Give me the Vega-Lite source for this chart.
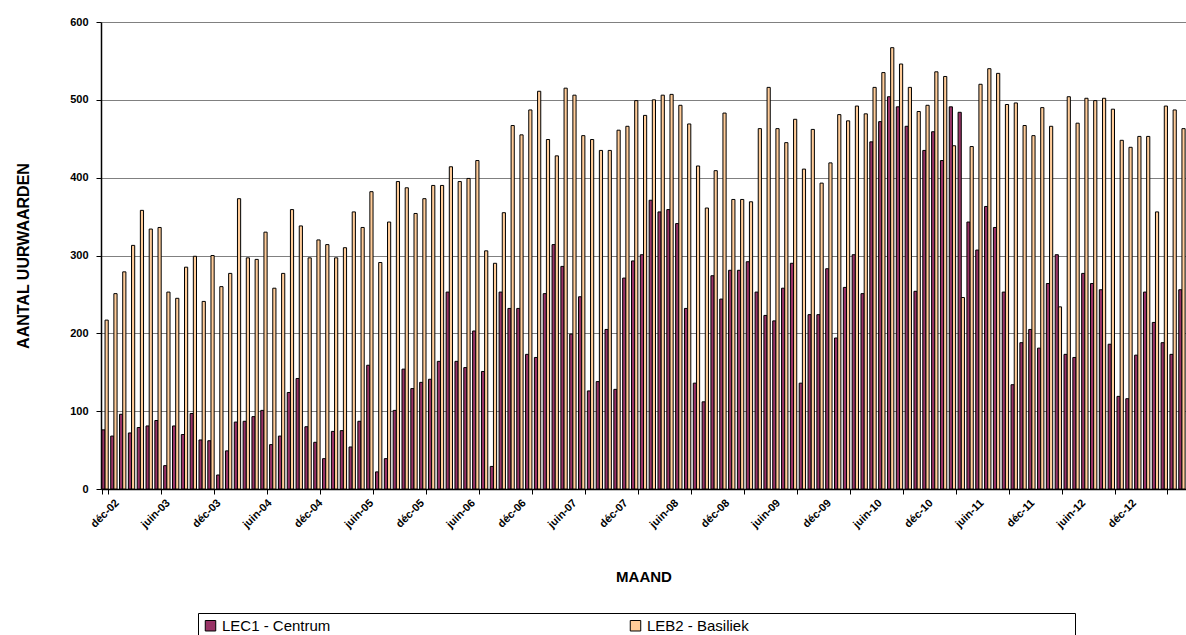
{
 "$schema": "https://vega.github.io/schema/vega-lite/v6.json",
 "width": 1085, "height": 467,
 "autosize": "none",
 "padding": {"left": 101, "top": 22, "right": 0, "bottom": 146},
 "background": "white",
 "config": {"view": {"stroke": null}, "font": "Liberation Sans"},
 "data": {"values": [
{"m":"déc-02","s":"LEC1 - Centrum","v":76},{"m":"déc-02","s":"LEB2 - Basiliek","v":217},
{"m":"janv-03","s":"LEC1 - Centrum","v":68},{"m":"janv-03","s":"LEB2 - Basiliek","v":251},
{"m":"févr-03","s":"LEC1 - Centrum","v":96},{"m":"févr-03","s":"LEB2 - Basiliek","v":279},
{"m":"mars-03","s":"LEC1 - Centrum","v":72},{"m":"mars-03","s":"LEB2 - Basiliek","v":313},
{"m":"avr-03","s":"LEC1 - Centrum","v":79},{"m":"avr-03","s":"LEB2 - Basiliek","v":358},
{"m":"mai-03","s":"LEC1 - Centrum","v":81},{"m":"mai-03","s":"LEB2 - Basiliek","v":334},
{"m":"juin-03","s":"LEC1 - Centrum","v":88},{"m":"juin-03","s":"LEB2 - Basiliek","v":336},
{"m":"juil-03","s":"LEC1 - Centrum","v":30},{"m":"juil-03","s":"LEB2 - Basiliek","v":253},
{"m":"août-03","s":"LEC1 - Centrum","v":81},{"m":"août-03","s":"LEB2 - Basiliek","v":245},
{"m":"sept-03","s":"LEC1 - Centrum","v":70},{"m":"sept-03","s":"LEB2 - Basiliek","v":285},
{"m":"oct-03","s":"LEC1 - Centrum","v":97},{"m":"oct-03","s":"LEB2 - Basiliek","v":299},
{"m":"nov-03","s":"LEC1 - Centrum","v":63},{"m":"nov-03","s":"LEB2 - Basiliek","v":241},
{"m":"déc-03","s":"LEC1 - Centrum","v":62},{"m":"déc-03","s":"LEB2 - Basiliek","v":300},
{"m":"janv-04","s":"LEC1 - Centrum","v":18},{"m":"janv-04","s":"LEB2 - Basiliek","v":260},
{"m":"févr-04","s":"LEC1 - Centrum","v":49},{"m":"févr-04","s":"LEB2 - Basiliek","v":277},
{"m":"mars-04","s":"LEC1 - Centrum","v":86},{"m":"mars-04","s":"LEB2 - Basiliek","v":373},
{"m":"avr-04","s":"LEC1 - Centrum","v":87},{"m":"avr-04","s":"LEB2 - Basiliek","v":297},
{"m":"mai-04","s":"LEC1 - Centrum","v":93},{"m":"mai-04","s":"LEB2 - Basiliek","v":295},
{"m":"juin-04","s":"LEC1 - Centrum","v":101},{"m":"juin-04","s":"LEB2 - Basiliek","v":330},
{"m":"juil-04","s":"LEC1 - Centrum","v":57},{"m":"juil-04","s":"LEB2 - Basiliek","v":258},
{"m":"août-04","s":"LEC1 - Centrum","v":68},{"m":"août-04","s":"LEB2 - Basiliek","v":277},
{"m":"sept-04","s":"LEC1 - Centrum","v":124},{"m":"sept-04","s":"LEB2 - Basiliek","v":359},
{"m":"oct-04","s":"LEC1 - Centrum","v":142},{"m":"oct-04","s":"LEB2 - Basiliek","v":338},
{"m":"nov-04","s":"LEC1 - Centrum","v":80},{"m":"nov-04","s":"LEB2 - Basiliek","v":297},
{"m":"déc-04","s":"LEC1 - Centrum","v":60},{"m":"déc-04","s":"LEB2 - Basiliek","v":320},
{"m":"janv-05","s":"LEC1 - Centrum","v":39},{"m":"janv-05","s":"LEB2 - Basiliek","v":314},
{"m":"févr-05","s":"LEC1 - Centrum","v":74},{"m":"févr-05","s":"LEB2 - Basiliek","v":297},
{"m":"mars-05","s":"LEC1 - Centrum","v":75},{"m":"mars-05","s":"LEB2 - Basiliek","v":310},
{"m":"avr-05","s":"LEC1 - Centrum","v":54},{"m":"avr-05","s":"LEB2 - Basiliek","v":356},
{"m":"mai-05","s":"LEC1 - Centrum","v":87},{"m":"mai-05","s":"LEB2 - Basiliek","v":336},
{"m":"juin-05","s":"LEC1 - Centrum","v":159},{"m":"juin-05","s":"LEB2 - Basiliek","v":382},
{"m":"juil-05","s":"LEC1 - Centrum","v":22},{"m":"juil-05","s":"LEB2 - Basiliek","v":291},
{"m":"août-05","s":"LEC1 - Centrum","v":39},{"m":"août-05","s":"LEB2 - Basiliek","v":343},
{"m":"sept-05","s":"LEC1 - Centrum","v":101},{"m":"sept-05","s":"LEB2 - Basiliek","v":395},
{"m":"oct-05","s":"LEC1 - Centrum","v":154},{"m":"oct-05","s":"LEB2 - Basiliek","v":387},
{"m":"nov-05","s":"LEC1 - Centrum","v":129},{"m":"nov-05","s":"LEB2 - Basiliek","v":354},
{"m":"déc-05","s":"LEC1 - Centrum","v":137},{"m":"déc-05","s":"LEB2 - Basiliek","v":373},
{"m":"janv-06","s":"LEC1 - Centrum","v":141},{"m":"janv-06","s":"LEB2 - Basiliek","v":390},
{"m":"févr-06","s":"LEC1 - Centrum","v":164},{"m":"févr-06","s":"LEB2 - Basiliek","v":390},
{"m":"mars-06","s":"LEC1 - Centrum","v":253},{"m":"mars-06","s":"LEB2 - Basiliek","v":414},
{"m":"avr-06","s":"LEC1 - Centrum","v":164},{"m":"avr-06","s":"LEB2 - Basiliek","v":395},
{"m":"mai-06","s":"LEC1 - Centrum","v":156},{"m":"mai-06","s":"LEB2 - Basiliek","v":399},
{"m":"juin-06","s":"LEC1 - Centrum","v":203},{"m":"juin-06","s":"LEB2 - Basiliek","v":422},
{"m":"juil-06","s":"LEC1 - Centrum","v":151},{"m":"juil-06","s":"LEB2 - Basiliek","v":306},
{"m":"août-06","s":"LEC1 - Centrum","v":29},{"m":"août-06","s":"LEB2 - Basiliek","v":290},
{"m":"sept-06","s":"LEC1 - Centrum","v":253},{"m":"sept-06","s":"LEB2 - Basiliek","v":355},
{"m":"oct-06","s":"LEC1 - Centrum","v":232},{"m":"oct-06","s":"LEB2 - Basiliek","v":467},
{"m":"nov-06","s":"LEC1 - Centrum","v":232},{"m":"nov-06","s":"LEB2 - Basiliek","v":455},
{"m":"déc-06","s":"LEC1 - Centrum","v":173},{"m":"déc-06","s":"LEB2 - Basiliek","v":487},
{"m":"janv-07","s":"LEC1 - Centrum","v":169},{"m":"janv-07","s":"LEB2 - Basiliek","v":511},
{"m":"févr-07","s":"LEC1 - Centrum","v":251},{"m":"févr-07","s":"LEB2 - Basiliek","v":449},
{"m":"mars-07","s":"LEC1 - Centrum","v":314},{"m":"mars-07","s":"LEB2 - Basiliek","v":428},
{"m":"avr-07","s":"LEC1 - Centrum","v":286},{"m":"avr-07","s":"LEB2 - Basiliek","v":515},
{"m":"mai-07","s":"LEC1 - Centrum","v":199},{"m":"mai-07","s":"LEB2 - Basiliek","v":506},
{"m":"juin-07","s":"LEC1 - Centrum","v":247},{"m":"juin-07","s":"LEB2 - Basiliek","v":454},
{"m":"juil-07","s":"LEC1 - Centrum","v":126},{"m":"juil-07","s":"LEB2 - Basiliek","v":449},
{"m":"août-07","s":"LEC1 - Centrum","v":138},{"m":"août-07","s":"LEB2 - Basiliek","v":435},
{"m":"sept-07","s":"LEC1 - Centrum","v":205},{"m":"sept-07","s":"LEB2 - Basiliek","v":435},
{"m":"oct-07","s":"LEC1 - Centrum","v":128},{"m":"oct-07","s":"LEB2 - Basiliek","v":461},
{"m":"nov-07","s":"LEC1 - Centrum","v":271},{"m":"nov-07","s":"LEB2 - Basiliek","v":466},
{"m":"déc-07","s":"LEC1 - Centrum","v":293},{"m":"déc-07","s":"LEB2 - Basiliek","v":499},
{"m":"janv-08","s":"LEC1 - Centrum","v":301},{"m":"janv-08","s":"LEB2 - Basiliek","v":480},
{"m":"févr-08","s":"LEC1 - Centrum","v":371},{"m":"févr-08","s":"LEB2 - Basiliek","v":500},
{"m":"mars-08","s":"LEC1 - Centrum","v":356},{"m":"mars-08","s":"LEB2 - Basiliek","v":506},
{"m":"avr-08","s":"LEC1 - Centrum","v":359},{"m":"avr-08","s":"LEB2 - Basiliek","v":507},
{"m":"mai-08","s":"LEC1 - Centrum","v":341},{"m":"mai-08","s":"LEB2 - Basiliek","v":493},
{"m":"juin-08","s":"LEC1 - Centrum","v":232},{"m":"juin-08","s":"LEB2 - Basiliek","v":469},
{"m":"juil-08","s":"LEC1 - Centrum","v":136},{"m":"juil-08","s":"LEB2 - Basiliek","v":415},
{"m":"août-08","s":"LEC1 - Centrum","v":112},{"m":"août-08","s":"LEB2 - Basiliek","v":361},
{"m":"sept-08","s":"LEC1 - Centrum","v":274},{"m":"sept-08","s":"LEB2 - Basiliek","v":409},
{"m":"oct-08","s":"LEC1 - Centrum","v":244},{"m":"oct-08","s":"LEB2 - Basiliek","v":483},
{"m":"nov-08","s":"LEC1 - Centrum","v":281},{"m":"nov-08","s":"LEB2 - Basiliek","v":372},
{"m":"déc-08","s":"LEC1 - Centrum","v":281},{"m":"déc-08","s":"LEB2 - Basiliek","v":372},
{"m":"janv-09","s":"LEC1 - Centrum","v":292},{"m":"janv-09","s":"LEB2 - Basiliek","v":369},
{"m":"févr-09","s":"LEC1 - Centrum","v":253},{"m":"févr-09","s":"LEB2 - Basiliek","v":463},
{"m":"mars-09","s":"LEC1 - Centrum","v":223},{"m":"mars-09","s":"LEB2 - Basiliek","v":516},
{"m":"avr-09","s":"LEC1 - Centrum","v":216},{"m":"avr-09","s":"LEB2 - Basiliek","v":463},
{"m":"mai-09","s":"LEC1 - Centrum","v":258},{"m":"mai-09","s":"LEB2 - Basiliek","v":445},
{"m":"juin-09","s":"LEC1 - Centrum","v":290},{"m":"juin-09","s":"LEB2 - Basiliek","v":475},
{"m":"juil-09","s":"LEC1 - Centrum","v":136},{"m":"juil-09","s":"LEB2 - Basiliek","v":411},
{"m":"août-09","s":"LEC1 - Centrum","v":224},{"m":"août-09","s":"LEB2 - Basiliek","v":462},
{"m":"sept-09","s":"LEC1 - Centrum","v":224},{"m":"sept-09","s":"LEB2 - Basiliek","v":393},
{"m":"oct-09","s":"LEC1 - Centrum","v":283},{"m":"oct-09","s":"LEB2 - Basiliek","v":419},
{"m":"nov-09","s":"LEC1 - Centrum","v":194},{"m":"nov-09","s":"LEB2 - Basiliek","v":481},
{"m":"déc-09","s":"LEC1 - Centrum","v":259},{"m":"déc-09","s":"LEB2 - Basiliek","v":473},
{"m":"janv-10","s":"LEC1 - Centrum","v":301},{"m":"janv-10","s":"LEB2 - Basiliek","v":492},
{"m":"févr-10","s":"LEC1 - Centrum","v":251},{"m":"févr-10","s":"LEB2 - Basiliek","v":482},
{"m":"mars-10","s":"LEC1 - Centrum","v":446},{"m":"mars-10","s":"LEB2 - Basiliek","v":516},
{"m":"avr-10","s":"LEC1 - Centrum","v":472},{"m":"avr-10","s":"LEB2 - Basiliek","v":535},
{"m":"mai-10","s":"LEC1 - Centrum","v":504},{"m":"mai-10","s":"LEB2 - Basiliek","v":567},
{"m":"juin-10","s":"LEC1 - Centrum","v":491},{"m":"juin-10","s":"LEB2 - Basiliek","v":546},
{"m":"juil-10","s":"LEC1 - Centrum","v":466},{"m":"juil-10","s":"LEB2 - Basiliek","v":516},
{"m":"août-10","s":"LEC1 - Centrum","v":254},{"m":"août-10","s":"LEB2 - Basiliek","v":485},
{"m":"sept-10","s":"LEC1 - Centrum","v":435},{"m":"sept-10","s":"LEB2 - Basiliek","v":493},
{"m":"oct-10","s":"LEC1 - Centrum","v":459},{"m":"oct-10","s":"LEB2 - Basiliek","v":536},
{"m":"nov-10","s":"LEC1 - Centrum","v":422},{"m":"nov-10","s":"LEB2 - Basiliek","v":530},
{"m":"déc-10","s":"LEC1 - Centrum","v":491},{"m":"déc-10","s":"LEB2 - Basiliek","v":441},
{"m":"janv-11","s":"LEC1 - Centrum","v":484},{"m":"janv-11","s":"LEB2 - Basiliek","v":246},
{"m":"févr-11","s":"LEC1 - Centrum","v":343},{"m":"févr-11","s":"LEB2 - Basiliek","v":440},
{"m":"mars-11","s":"LEC1 - Centrum","v":307},{"m":"mars-11","s":"LEB2 - Basiliek","v":520},
{"m":"avr-11","s":"LEC1 - Centrum","v":363},{"m":"avr-11","s":"LEB2 - Basiliek","v":540},
{"m":"mai-11","s":"LEC1 - Centrum","v":336},{"m":"mai-11","s":"LEB2 - Basiliek","v":534},
{"m":"juin-11","s":"LEC1 - Centrum","v":253},{"m":"juin-11","s":"LEB2 - Basiliek","v":494},
{"m":"juil-11","s":"LEC1 - Centrum","v":134},{"m":"juil-11","s":"LEB2 - Basiliek","v":496},
{"m":"août-11","s":"LEC1 - Centrum","v":188},{"m":"août-11","s":"LEB2 - Basiliek","v":467},
{"m":"sept-11","s":"LEC1 - Centrum","v":205},{"m":"sept-11","s":"LEB2 - Basiliek","v":454},
{"m":"oct-11","s":"LEC1 - Centrum","v":181},{"m":"oct-11","s":"LEB2 - Basiliek","v":490},
{"m":"nov-11","s":"LEC1 - Centrum","v":264},{"m":"nov-11","s":"LEB2 - Basiliek","v":466},
{"m":"déc-11","s":"LEC1 - Centrum","v":301},{"m":"déc-11","s":"LEB2 - Basiliek","v":234},
{"m":"janv-12","s":"LEC1 - Centrum","v":173},{"m":"janv-12","s":"LEB2 - Basiliek","v":504},
{"m":"févr-12","s":"LEC1 - Centrum","v":169},{"m":"févr-12","s":"LEB2 - Basiliek","v":470},
{"m":"mars-12","s":"LEC1 - Centrum","v":277},{"m":"mars-12","s":"LEB2 - Basiliek","v":502},
{"m":"avr-12","s":"LEC1 - Centrum","v":264},{"m":"avr-12","s":"LEB2 - Basiliek","v":499},
{"m":"mai-12","s":"LEC1 - Centrum","v":256},{"m":"mai-12","s":"LEB2 - Basiliek","v":502},
{"m":"juin-12","s":"LEC1 - Centrum","v":186},{"m":"juin-12","s":"LEB2 - Basiliek","v":488},
{"m":"juil-12","s":"LEC1 - Centrum","v":119},{"m":"juil-12","s":"LEB2 - Basiliek","v":448},
{"m":"août-12","s":"LEC1 - Centrum","v":116},{"m":"août-12","s":"LEB2 - Basiliek","v":439},
{"m":"sept-12","s":"LEC1 - Centrum","v":172},{"m":"sept-12","s":"LEB2 - Basiliek","v":453},
{"m":"oct-12","s":"LEC1 - Centrum","v":253},{"m":"oct-12","s":"LEB2 - Basiliek","v":453},
{"m":"nov-12","s":"LEC1 - Centrum","v":214},{"m":"nov-12","s":"LEB2 - Basiliek","v":356},
{"m":"déc-12","s":"LEC1 - Centrum","v":188},{"m":"déc-12","s":"LEB2 - Basiliek","v":492},
{"m":"janv-13","s":"LEC1 - Centrum","v":173},{"m":"janv-13","s":"LEB2 - Basiliek","v":487},
{"m":"févr-13","s":"LEC1 - Centrum","v":256},{"m":"févr-13","s":"LEB2 - Basiliek","v":463}
 ]},
 "mark": {"type": "bar", "stroke": "black", "strokeWidth": 1},
 "encoding": {
  "x": {"field": "m", "type": "ordinal", "sort": null, "title": "MAAND",
   "scale": {"paddingInner": 0.28, "paddingOuter": 0.1},
   "axis": {"values": ["déc-02","juin-03","déc-03","juin-04","déc-04","juin-05","déc-05","juin-06","déc-06","juin-07","déc-07","juin-08","déc-08","juin-09","déc-09","juin-10","déc-10","juin-11","déc-11","juin-12","déc-12"],
    "labelAngle": -45, "labelAlign": "right", "labelBaseline": "middle", "labelFont": "Liberation Sans", "labelFontSize": 11, "labelFontWeight": "bold", "labelColor": "black", "labelPadding": 7,
    "labelOffset": {"expr": "12 - 42 * datum.index"},
    "tickBand": "extent", "tickColor": "black", "tickSize": 5, "domainColor": "black", "domainWidth": 1.5,
    "titleFont": "Liberation Sans", "titleFontSize": 15, "titleFontWeight": "bold", "titleColor": "black", "titlePadding": 40}},
  "xOffset": {"field": "s", "type": "nominal", "sort": ["LEC1 - Centrum", "LEB2 - Basiliek"], "scale": {"paddingInner": 0, "paddingOuter": 0}},
  "y": {"field": "v", "type": "quantitative", "title": "AANTAL UURWAARDEN",
   "scale": {"domain": [0, 600], "nice": false},
   "axis": {"values": [0,100,200,300,400,500,600], "grid": true, "gridColor": "#808080", "gridWidth": 1,
    "labelFont": "Liberation Sans", "labelFontSize": 11, "labelFontWeight": "bold", "labelColor": "black", "labelPadding": 8,
    "tickColor": "black", "tickSize": 5, "domainColor": "black", "domainWidth": 1.5,
    "titleFont": "Liberation Sans", "titleFontSize": 16, "titleFontWeight": "bold", "titleColor": "black", "titlePadding": 38}},
  "color": {"field": "s", "type": "nominal", "sort": ["LEC1 - Centrum", "LEB2 - Basiliek"],
   "scale": {"domain": ["LEC1 - Centrum", "LEB2 - Basiliek"], "range": ["#993366", "#FFCC99"]},
   "legend": {"title": null, "orient": "none", "legendX": 97, "legendY": 591, "direction": "horizontal", "columns": 2, "columnPadding": 297,
    "strokeColor": "black", "padding": 5, "fillColor": "white",
    "symbolType": "square", "symbolSize": 110, "symbolStrokeColor": "black", "symbolStrokeWidth": 1, "symbolOpacity": 1,
    "labelFont": "Liberation Sans", "labelFontSize": 15, "labelColor": "black", "labelLimit": 0, "labelOffset": 4,
    "labelExpr": "datum.label == 'LEB2 - Basiliek' ? pad(datum.label, 92, '\u00a0') + '\u200b' : datum.label"}}
 }
}
